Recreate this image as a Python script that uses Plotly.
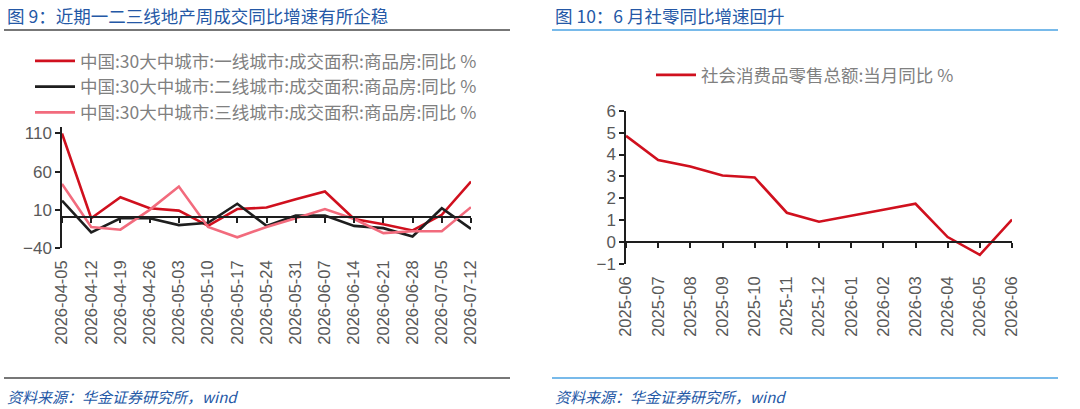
#!/usr/bin/env python3
"""
Two side-by-side line charts: weekly property deals by city tier (left)
and monthly retail sales growth (right).
"""
import plotly.graph_objects as go

# ----------------------------------------------------------------------------
# Data
# ----------------------------------------------------------------------------
week_dates = [
    "2026-04-05", "2026-04-12", "2026-04-19", "2026-04-26", "2026-05-03",
    "2026-05-10", "2026-05-17", "2026-05-24", "2026-05-31", "2026-06-07",
    "2026-06-14", "2026-06-21", "2026-06-28", "2026-07-05", "2026-07-12",
]
tier1_yoy = [110, -1, 26.5, 12, 9, -11, 11, 13, 24, 34, -2, -9, -17, 3.5, 47]
tier2_yoy = [22, -19.5, -1, -1, -10, -7, 18, -11, 2.5, 2.5, -11, -14, -25, 12, -15]
tier3_yoy = [44, -12.5, -16, 10, 40.5, -12.5, -26, -12.5, -1, 11, -2, -20.5, -18, -18, 13.5]

tier_names = [
    "中国:30大中城市:一线城市:成交面积:商品房:同比 %",
    "中国:30大中城市:二线城市:成交面积:商品房:同比 %",
    "中国:30大中城市:三线城市:成交面积:商品房:同比 %",
]

months = [
    "2025-06", "2025-07", "2025-08", "2025-09", "2025-10", "2025-11", "2025-12",
    "2026-01", "2026-02", "2026-03", "2026-04", "2026-05", "2026-06",
]
retail_yoy = [4.85, 3.75, 3.45, 3.04, 2.95, 1.34, 0.93, 1.22, 1.48, 1.75, 0.23, -0.58, 1.03]
retail_name = "社会消费品零售总额:当月同比 %"

left_yticks = [-40, 10, 60, 110]
right_yticks = [-1, 0, 1, 2, 3, 4, 5, 6]

# ----------------------------------------------------------------------------
# Styling
# ----------------------------------------------------------------------------
W, H = 1080, 409
RED = "#D0101E"
BLACK = "#1E1E1E"
PINK = "#F26B7D"
TITLE_BLUE = "#2458A6"
GRAY_TXT = "#595959"
LEG_TXT = "#808080"
CJK = "Noto Sans CJK SC"
LATIN = "Liberation Sans, Arial"


def px_x(p):
    return p / W


def px_y(p):
    return 1 - p / H


# plot areas in pixels (left, right, top, bottom)
L_BOX = (62, 471, 127, 248)
R_BOX = (626, 1012, 110.7, 264)
L_YRANGE = [-40, 118.5]
R_YRANGE = [-1, 6]


def zero_pos(box, yrange):
    y0, y1 = px_y(box[3]), px_y(box[2])
    return y0 + (y1 - y0) * (0 - yrange[0]) / (yrange[1] - yrange[0])


fig = go.Figure()

# ----------------------------------------------------------------------------
# Left chart
# ----------------------------------------------------------------------------
for vals, name, col in zip([tier1_yoy, tier2_yoy, tier3_yoy], tier_names, [RED, BLACK, PINK]):
    fig.add_trace(go.Scatter(
        x=week_dates, y=vals, name=name, mode="lines",
        line=dict(color=col, width=2.6), legendgroup=name,
        xaxis="x", yaxis="y", legend="legend",
    ))

# invisible helper trace so the zero-line axis gets drawn
fig.add_trace(go.Scatter(x=list(range(len(week_dates))), y=[None] * len(week_dates),
                         xaxis="x3", yaxis="y", showlegend=False, hoverinfo="skip"))

# ----------------------------------------------------------------------------
# Right chart
# ----------------------------------------------------------------------------
fig.add_trace(go.Scatter(
    x=months, y=retail_yoy, name=retail_name, mode="lines",
    line=dict(color=RED, width=2.6), xaxis="x2", yaxis="y2", legend="legend2",
))
fig.add_trace(go.Scatter(x=list(range(len(months))), y=[None] * len(months),
                         xaxis="x4", yaxis="y2", showlegend=False, hoverinfo="skip"))

tickfont = dict(family=LATIN, size=17, color=GRAY_TXT)
xtickfont = dict(family=LATIN, size=16.5, color=GRAY_TXT)

fig.update_layout(
    width=W, height=H,
    margin=dict(l=0, r=0, t=0, b=0, autoexpand=False),
    paper_bgcolor="white", plot_bgcolor="rgba(0,0,0,0)",
    showlegend=True,
    xaxis=dict(domain=[px_x(L_BOX[0]), px_x(L_BOX[1])], type="category",
               range=[0, len(week_dates) - 1], showline=False, showgrid=False,
               zeroline=False, ticks="", tickangle=-90, tickfont=xtickfont,
               ticklabelstandoff=8, anchor="y", automargin=False),
    yaxis=dict(domain=[px_y(L_BOX[3]), px_y(L_BOX[2])], range=L_YRANGE,
               tickvals=left_yticks, showline=True, linecolor=BLACK, linewidth=1.5,
               ticks="outside", ticklen=5, tickcolor=BLACK, tickwidth=1.5,
               showgrid=False, zeroline=False, tickfont=tickfont, anchor="x",
               automargin=False),
    xaxis3=dict(overlaying="x", anchor="free", position=zero_pos(L_BOX, L_YRANGE),
                range=[0, len(week_dates) - 1], tickvals=list(range(len(week_dates))),
                showticklabels=False, showline=True, linecolor=BLACK, linewidth=1.5,
                ticks="outside", ticklen=5, tickcolor=BLACK, tickwidth=1.5,
                showgrid=False, zeroline=False, automargin=False),
    xaxis2=dict(domain=[px_x(R_BOX[0]), px_x(R_BOX[1])], type="category",
                range=[0, len(months) - 1], showline=False, showgrid=False,
                zeroline=False, ticks="", tickangle=-90, tickfont=xtickfont,
                ticklabelstandoff=8, anchor="y2", automargin=False),
    yaxis2=dict(domain=[px_y(R_BOX[3]), px_y(R_BOX[2])], range=R_YRANGE,
                tickvals=right_yticks, showline=True, linecolor=BLACK, linewidth=1.5,
                ticks="outside", ticklen=5, tickcolor=BLACK, tickwidth=1.5,
                showgrid=False, zeroline=False, tickfont=tickfont, anchor="x2",
                automargin=False),
    xaxis4=dict(overlaying="x2", anchor="free", position=zero_pos(R_BOX, R_YRANGE),
                range=[0, len(months) - 1], tickvals=list(range(len(months))),
                showticklabels=False, showline=True, linecolor=BLACK, linewidth=1.5,
                ticks="outside", ticklen=5, tickcolor=BLACK, tickwidth=1.5,
                showgrid=False, zeroline=False, automargin=False),
    legend=dict(x=px_x(30), y=px_y(43), xanchor="left", yanchor="top",
                bgcolor="rgba(0,0,0,0)", tracegroupgap=0, itemwidth=40,
                font=dict(family=CJK, size=17.5, color=LEG_TXT)),
    legend2=dict(x=px_x(651), y=px_y(57), xanchor="left", yanchor="top",
                 bgcolor="rgba(0,0,0,0)", itemwidth=40,
                 font=dict(family=CJK, size=17.5, color=LEG_TXT)),
)

# ----------------------------------------------------------------------------
# Titles, rules, source notes
# ----------------------------------------------------------------------------
title_font = dict(family=CJK, size=17.5, color=TITLE_BLUE)
note_font = dict(family=CJK, size=15, color=TITLE_BLUE, style="italic")

for x0, text in [(5, "图 9：近期一二三线地产周成交同比增速有所企稳"),
                 (553, "图 10：6 月社零同比增速回升")]:
    fig.add_annotation(x=px_x(x0), y=px_y(16), xref="paper", yref="paper",
                       xanchor="left", yanchor="middle", showarrow=False,
                       text=text, font=title_font)

for x0, text in [(5, "资料来源：华金证券研究所，<i>wind</i>"),
                 (553, "资料来源：华金证券研究所，<i>wind</i>")]:
    fig.add_annotation(x=px_x(x0), y=px_y(396), xref="paper", yref="paper",
                       xanchor="left", yanchor="middle", showarrow=False,
                       text=text, font=note_font)

for (x0, x1), col in [((4, 510), "#4A4A4A"), ((552, 1058), "#4BA3E3")]:
    for yy in (30, 378):
        fig.add_shape(type="line", xref="paper", yref="paper",
                      x0=px_x(x0), x1=px_x(x1), y0=px_y(yy), y1=px_y(yy),
                      line=dict(color=col, width=1.5))

# page body has a default 8px margin; drop it so the figure fills the window
fig.write_html("out.html", config={"displayModeBar": False},
               post_script="document.body.style.margin='0';")
